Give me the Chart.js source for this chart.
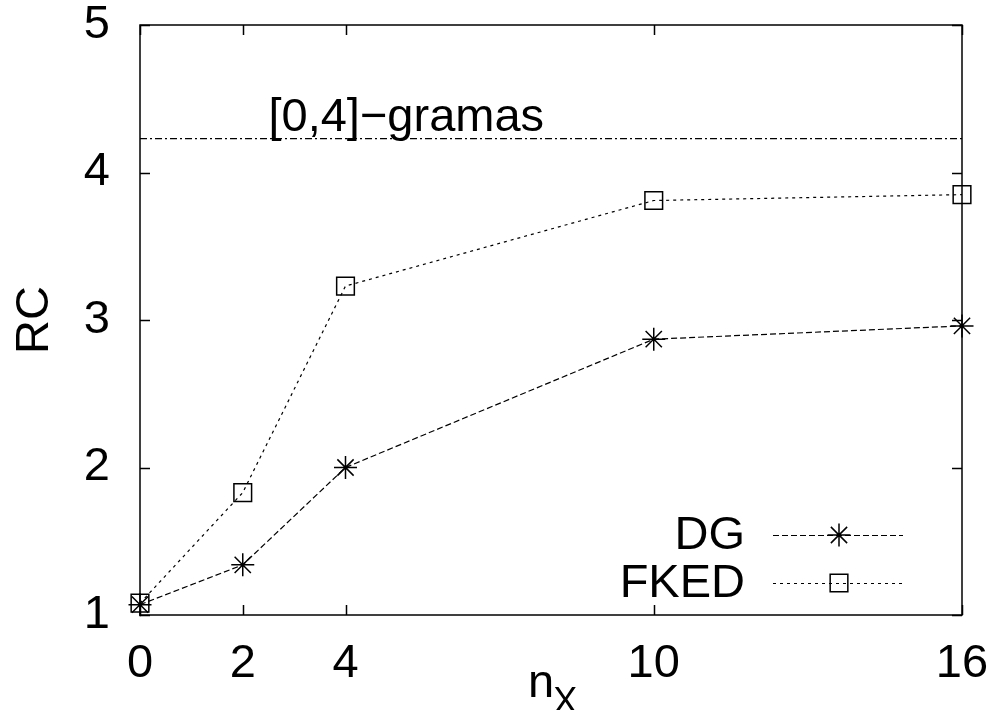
<!DOCTYPE html>
<html>
<head>
<meta charset="utf-8">
<script src="https://cdn.jsdelivr.net/npm/chart.js@4/dist/chart.umd.min.js"></script>
<style>
  html, body { margin: 0; padding: 0; background: #fff; }
  #wrap { width: 991px; height: 710px; position: relative; }
</style>
</head>
<body>
<div id="wrap"><canvas id="c" width="991" height="710"></canvas></div>
<script>
const xValues = [0, 2, 4, 10, 16];
const xTickLabels = [0, 2, 4, 10, 16];
const yTickLabels = [1, 2, 3, 4, 5];
const dgValues = [1.07, 1.34, 2.0, 2.87, 2.96];
const fkedValues = [1.08, 1.83, 3.23, 3.81, 3.85];
const refValue = 4.23;
const refLabel = '[0,4]\u2212gramas';
const seriesNames = ['DG', 'FKED'];
const xTitle = ['n', 'X'];
const yTitle = 'RC';

const FONT = '"Liberation Sans", Arial, sans-serif';
const FS = 47;

const dgStyle = { pointStyle: 'star', radius: 11.5, borderWidth: 1.5, dash: [6, 3] };
const fkStyle = { pointStyle: 'rect', radius: 12.5, borderWidth: 1.5, dash: [3, 4] };

function zeroPad(s) { s.paddingTop = 0; s.paddingBottom = 0; s.paddingLeft = 0; s.paddingRight = 0; }

const overlay = {
  id: 'overlay',
  afterDatasetsDraw(chart) {
    const ctx = chart.ctx;
    const a = chart.chartArea;
    const xs = chart.scales.x, ys = chart.scales.y;
    ctx.save();
    ctx.strokeStyle = '#000';
    ctx.lineWidth = 1.5;
    ctx.setLineDash([]);
    ctx.strokeRect(a.left, a.top, a.right - a.left, a.bottom - a.top);
    const tl = 10;
    ctx.beginPath();
    yTickLabels.forEach(v => {
      const y = Math.round(ys.getPixelForValue(v)) + 0.5;
      ctx.moveTo(a.left, y); ctx.lineTo(a.left + tl, y);
      ctx.moveTo(a.right, y); ctx.lineTo(a.right - tl, y);
    });
    xTickLabels.forEach(v => {
      const x = Math.round(xs.getPixelForValue(v)) + 0.5;
      ctx.moveTo(x, a.bottom); ctx.lineTo(x, a.bottom - tl);
      ctx.moveTo(x, a.top); ctx.lineTo(x, a.top + tl);
    });
    ctx.stroke();

    ctx.fillStyle = '#000';
    ctx.font = FS + 'px ' + FONT;
    ctx.textAlign = 'left';
    ctx.textBaseline = 'alphabetic';
    ctx.fillText(refLabel, xs.getPixelForValue(2.5), ys.getPixelForValue(refValue) - 8);

    const styles = [dgStyle, fkStyle];
    const legY = [535, 583];
    seriesNames.forEach((name, i) => {
      const y = legY[i];
      ctx.font = FS + 'px ' + FONT;
      ctx.textAlign = 'right';
      ctx.textBaseline = 'middle';
      ctx.fillStyle = '#000';
      ctx.fillText(name, 745, y + 1);
      ctx.strokeStyle = '#000';
      ctx.lineWidth = 1.2;
      ctx.setLineDash(styles[i].dash);
      ctx.beginPath();
      ctx.moveTo(773, y + 0.5); ctx.lineTo(903, y + 0.5);
      ctx.stroke();
      ctx.setLineDash([]);
      ctx.fillStyle = 'rgba(0,0,0,0)';
      ctx.lineWidth = styles[i].borderWidth;
      Chart.helpers.drawPoint(ctx, {
        pointStyle: styles[i].pointStyle,
        radius: styles[i].radius,
        borderWidth: styles[i].borderWidth,
        rotation: 0
      }, 839, y);
    });

    ctx.fillStyle = '#000';
    ctx.textAlign = 'left';
    ctx.textBaseline = 'alphabetic';
    ctx.font = FS + 'px ' + FONT;
    ctx.fillText(xTitle[0], 528, 697);
    const w = ctx.measureText(xTitle[0]).width;
    ctx.font = '36px ' + FONT;
    ctx.fillText(xTitle[1], 528 + w - 1, 713);
    ctx.restore();
  }
};

const ctx = document.getElementById('c').getContext('2d');
new Chart(ctx, {
  type: 'scatter',
  data: {
    datasets: [
      {
        label: seriesNames[0],
        data: xValues.map((x, i) => ({ x: x, y: dgValues[i] })),
        showLine: true,
        borderColor: '#000',
        borderWidth: 1.2,
        borderDash: dgStyle.dash,
        pointStyle: dgStyle.pointStyle,
        pointRadius: dgStyle.radius,
        pointBorderWidth: dgStyle.borderWidth,
        pointBorderColor: '#000',
        pointBackgroundColor: 'rgba(0,0,0,0)',
        clip: false
      },
      {
        label: seriesNames[1],
        data: xValues.map((x, i) => ({ x: x, y: fkedValues[i] })),
        showLine: true,
        borderColor: '#000',
        borderWidth: 1.2,
        borderDash: fkStyle.dash,
        pointStyle: fkStyle.pointStyle,
        pointRadius: fkStyle.radius,
        pointBorderWidth: fkStyle.borderWidth,
        pointBorderColor: '#000',
        pointBackgroundColor: 'rgba(0,0,0,0)',
        clip: false
      },
      {
        label: refLabel,
        data: [{ x: xValues[0], y: refValue }, { x: xValues[xValues.length - 1], y: refValue }],
        showLine: true,
        borderColor: '#000',
        borderWidth: 1.2,
        borderDash: [7, 3, 2, 3],
        pointRadius: 0
      }
    ]
  },
  options: {
    responsive: false,
    animation: false,
    layout: { padding: { top: 25, right: 29, left: 0, bottom: 0 } },
    plugins: { legend: { display: false }, tooltip: { enabled: false } },
    scales: {
      x: {
        type: 'linear',
        min: 0, max: 16,
        afterBuildTicks: s => { s.ticks = xTickLabels.map(v => ({ value: v })); },
        afterFit: s => { s.height = 95; zeroPad(s); },
        grid: { display: false, drawTicks: false },
        border: { display: false },
        ticks: { color: '#000', font: { family: FONT, size: FS }, padding: 21, maxRotation: 0, autoSkip: false }
      },
      y: {
        min: 1, max: 5,
        afterBuildTicks: s => { s.ticks = yTickLabels.map(v => ({ value: v })); },
        afterFit: s => { s.width = 140; zeroPad(s); },
        grid: { display: false, drawTicks: false },
        border: { display: false },
        title: { display: true, text: yTitle, color: '#000', font: { family: FONT, size: FS }, padding: { top: 7, bottom: 0 } },
        ticks: { color: '#000', font: { family: FONT, size: FS }, padding: 30 }
      }
    }
  },
  plugins: [overlay]
});
</script>
</body>
</html>
